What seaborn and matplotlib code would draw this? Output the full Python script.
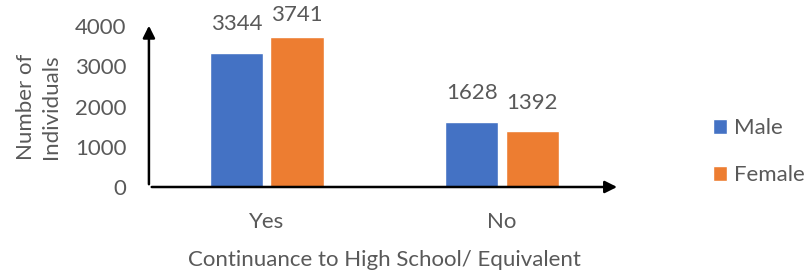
import pandas as pd
import matplotlib.pyplot as plt
import seaborn as sns

# data
categories = ['Yes', 'No']
genders = ['Male', 'Female']
male_counts = [3344, 1628]
female_counts = [3741, 1392]

df = pd.DataFrame({
    'continuance': categories * 2,
    'gender': ['Male'] * 2 + ['Female'] * 2,
    'count': male_counts + female_counts,
})

sns.set_style('white')
plt.rcParams['font.family'] = ['Lato', 'DejaVu Sans']
text_col = '#595959'
fs = 16

fig = plt.figure(figsize=(8.05, 2.75), dpi=100)
ax = fig.add_axes([0.185, 0.32, 0.585, 0.585])

sns.barplot(data=df, x='continuance', y='count', hue='gender', order=categories,
            hue_order=genders, palette=['#4472C4', '#ED7D31'], width=0.514, gap=0.12,
            saturation=1, ax=ax)

for c in ax.containers:
    labels = ax.bar_label(c, padding=13, fontsize=fs, color=text_col)
    # labels near the top sit closer to their bar (keeps them inside the figure)
    for lab, val in zip(labels, c.datavalues):
        if val > 3600:
            lab.xyann = (0, 8)

ax.set_xlim(-0.5, 1.5)
ax.set_ylim(0, 4000)
ax.set_yticks([0, 1000, 2000, 3000, 4000])
ax.tick_params(axis='both', labelsize=fs, colors=text_col, length=0)
ax.tick_params(axis='y', pad=16)
ax.tick_params(axis='x', pad=18)
for s in ax.spines.values():
    s.set_visible(False)

# axis arrows
ax.annotate('', xy=(0, 1.02), xytext=(0, 0), xycoords='axes fraction',
            arrowprops=dict(arrowstyle='-|>', color='black', lw=1.8, mutation_scale=18),
            annotation_clip=False)
ax.annotate('', xy=(1.0, 0), xytext=(0, 0), xycoords='axes fraction',
            arrowprops=dict(arrowstyle='-|>', color='black', lw=1.8, mutation_scale=18),
            annotation_clip=False)

ax.set_xlabel('Continuance to High School/ Equivalent', fontsize=fs, color=text_col, labelpad=13)
ax.set_ylabel('Number of\nIndividuals', fontsize=fs, color=text_col, labelpad=10,
              linespacing=1.35)

ax.legend(loc='center left', bbox_to_anchor=(1.155, 0.22), frameon=False, fontsize=fs,
          handlelength=0.65, handleheight=0.65, handletextpad=0.3, labelspacing=1.2,
          labelcolor=text_col)

fig.savefig('out.png', dpi=100)
